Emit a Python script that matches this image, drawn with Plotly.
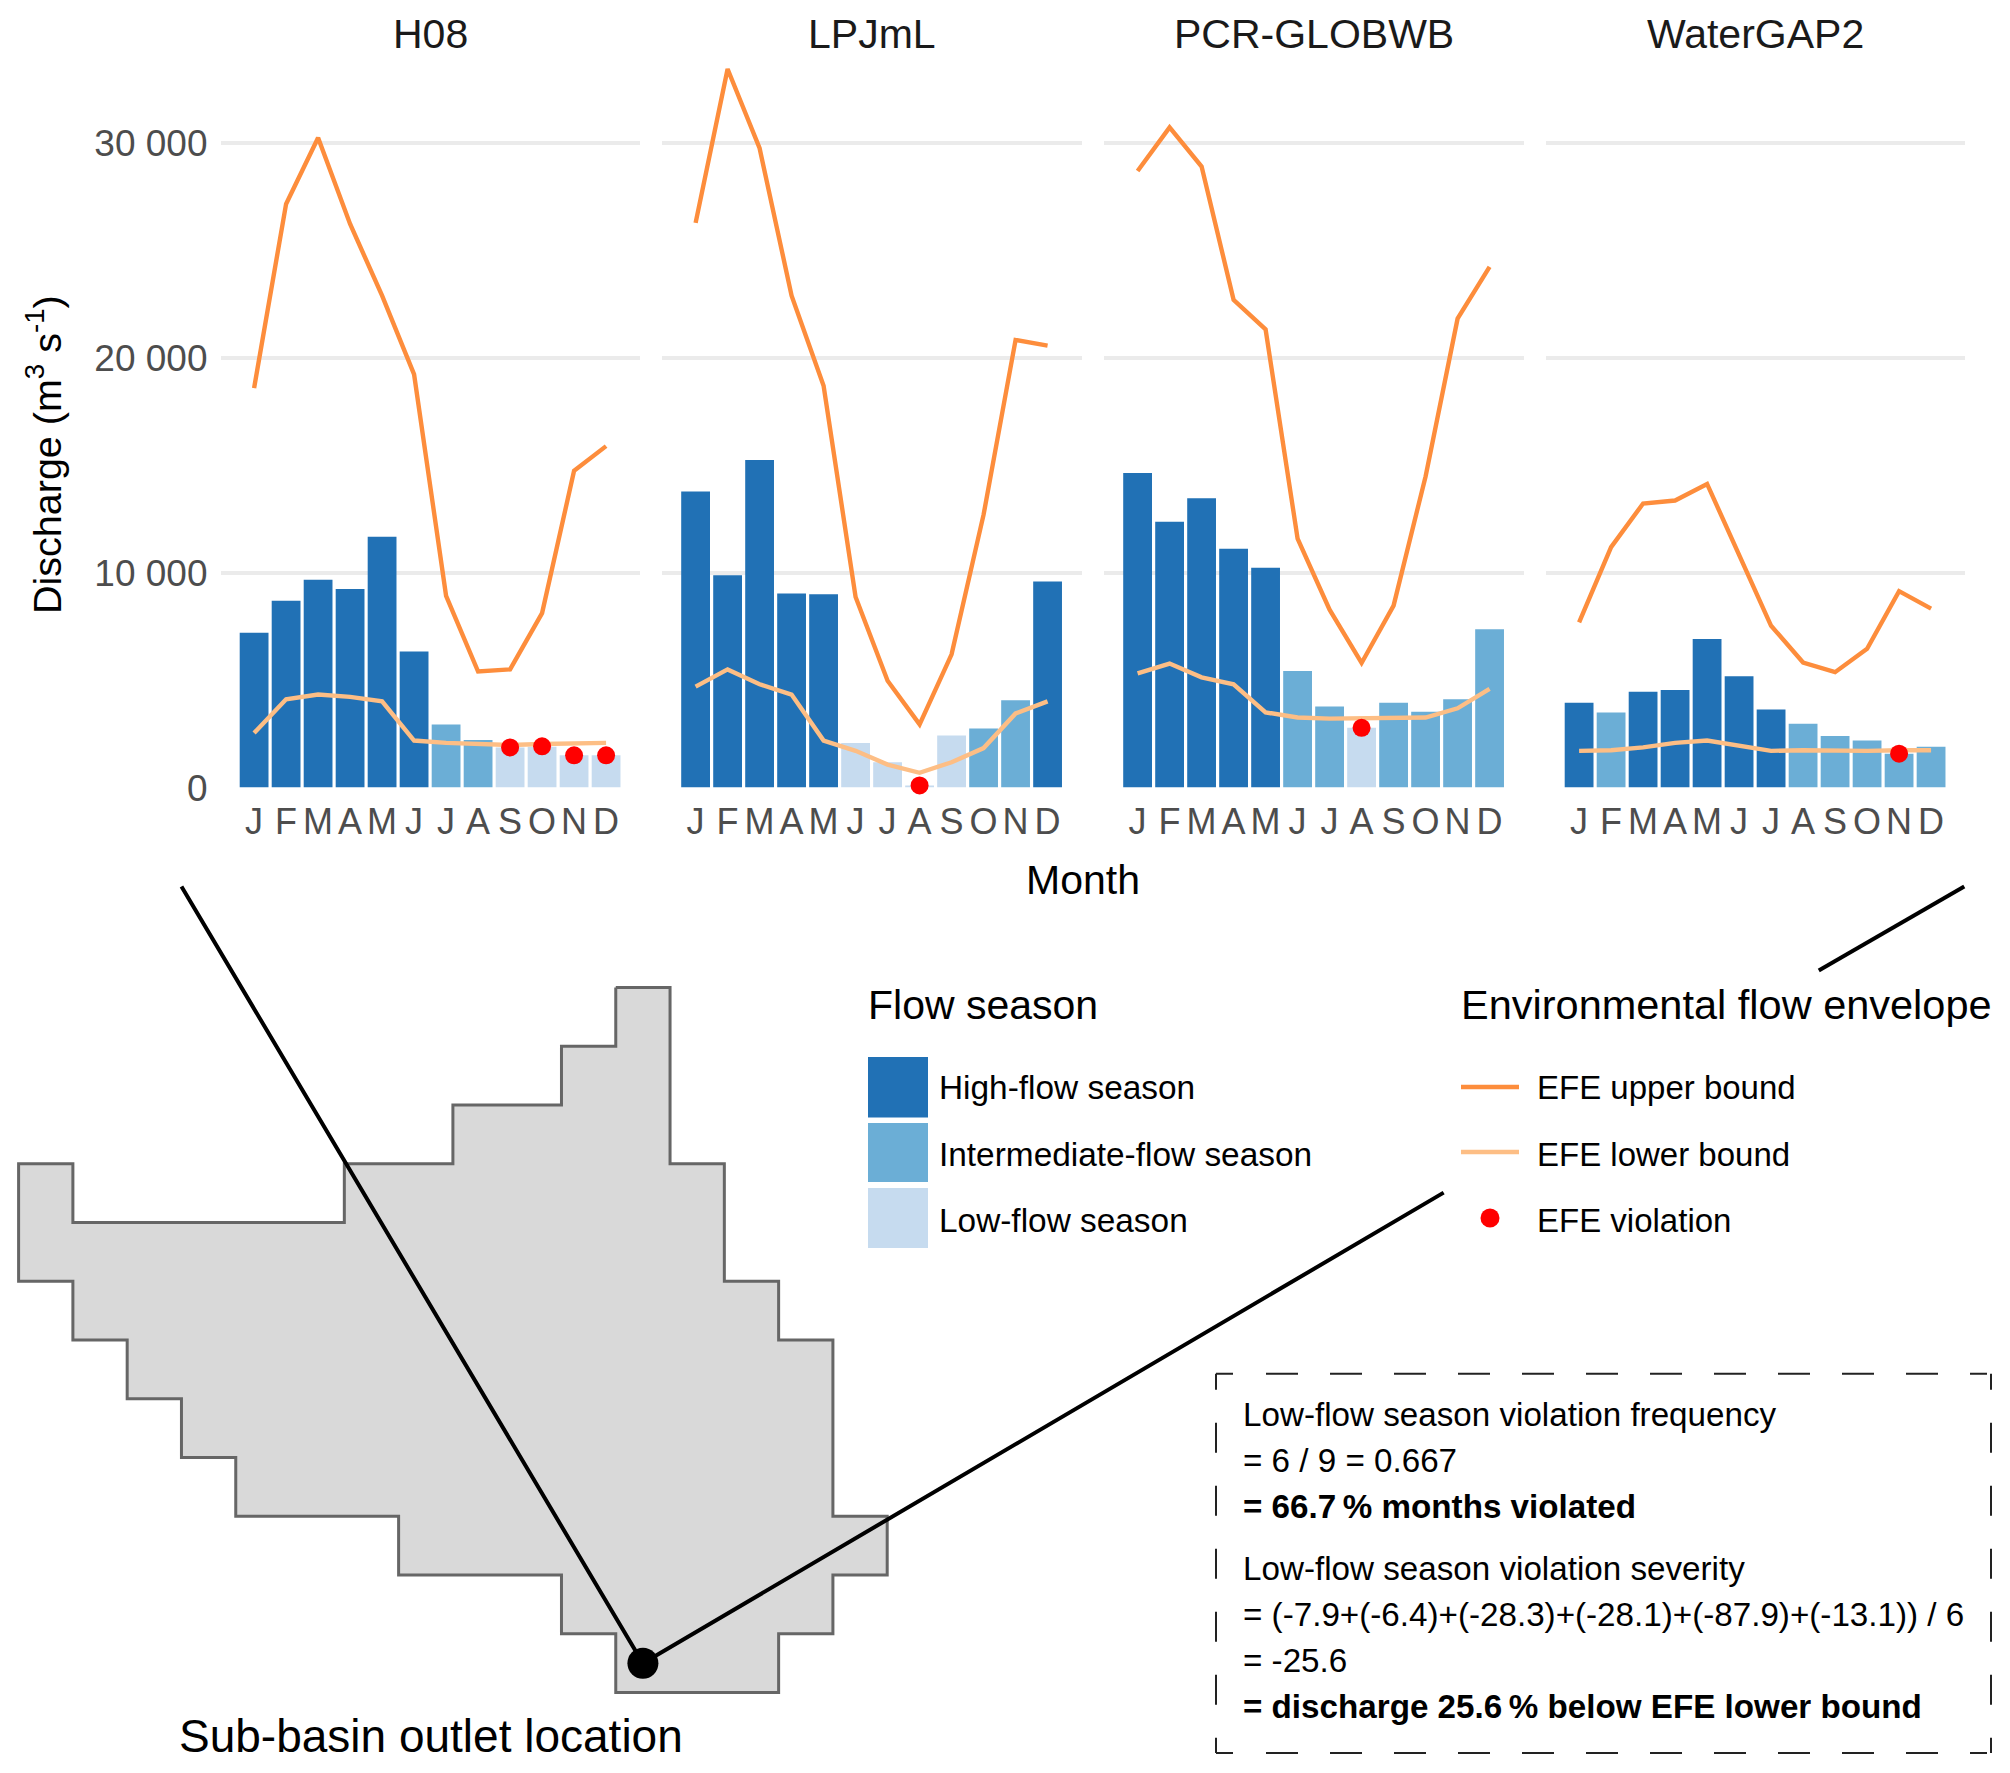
import plotly.graph_objects as go

W, H = 2010, 1773
MODELS = ["H08", "LPJmL", "PCR-GLOBWB", "WaterGAP2"]
MONTH_LABELS = ["J", "F", "M", "A", "M", "J", "J", "A", "S", "O", "N", "D"]
MONTH_POS = [1, 2, 3, 4, 5, 6, 7, 8, 9, 10, 11, 12]
Y_TICKS = [0, 10000, 20000, 30000]
Y_TICK_LABELS = ["0", "10 000", "20 000", "30 000"]

H08_DISCHARGE = [7210, 8700, 9670, 9240, 11670, 6330, 2940, 2220, 1870, 1900, 1500, 1500]
LPJ_DISCHARGE = [13780, 9880, 15250, 9030, 9000, 2080, 1180, 100, 2430, 2750, 4060, 9590]
PCR_DISCHARGE = [14640, 12370, 13460, 11110, 10230, 5420, 3770, 2780, 3950, 3530, 4110, 7370]
WG2_DISCHARGE = [3950, 3500, 4460, 4540, 6920, 5180, 3630, 2970, 2400, 2190, 1580, 1900]

H08_SEASON = ["H", "H", "H", "H", "H", "H", "I", "I", "L", "L", "L", "L"]
LPJ_SEASON = ["H", "H", "H", "H", "H", "L", "L", "L", "L", "I", "I", "H"]
PCR_SEASON = ["H", "H", "H", "H", "H", "I", "I", "L", "I", "I", "I", "I"]
WG2_SEASON = ["H", "I", "H", "H", "H", "H", "H", "I", "I", "I", "I", "I"]

H08_UPPER = [18590, 27160, 30240, 26230, 22890, 19230, 8920, 5400, 5500, 8120, 14740, 15890]
LPJ_UPPER = [26280, 33440, 29750, 22890, 18700, 8870, 4970, 2940, 6200, 12700, 20830, 20570]
PCR_UPPER = [28690, 30720, 28900, 22700, 21320, 11590, 8280, 5800, 8470, 14480, 21820, 24230]
WG2_UPPER = [7690, 11190, 13220, 13360, 14130, 10870, 7530, 5820, 5370, 6460, 9140, 8330]

H08_LOWER = [2540, 4110, 4330, 4220, 4010, 2190, 2080, 2030, 1980, 2030, 2080, 2080]
LPJ_LOWER = [4700, 5500, 4810, 4330, 2190, 1710, 1070, 690, 1180, 1840, 3450, 4010]
PCR_LOWER = [5320, 5770, 5130, 4810, 3500, 3260, 3210, 3210, 3210, 3260, 3690, 4590]
WG2_LOWER = [1710, 1740, 1870, 2080, 2190, 1950, 1710, 1740, 1710, 1710, 1740, 1740]

H08_VIOLATION = [None, None, None, None, None, None, None, None, 1870, 1920, 1500, 1500]
LPJ_VIOLATION = [None, None, None, None, None, None, None, 100, None, None, None, None]
PCR_VIOLATION = [None, None, None, None, None, None, None, 2780, None, None, None, None]
WG2_VIOLATION = [None, None, None, None, None, None, None, None, None, None, 1580, None]

# basin outline in grid-cell units
BASIN_X = [11, 12, 12, 13, 13, 14, 14, 15, 15, 16, 16, 15, 15, 14, 14, 11, 11, 10, 10, 7, 7, 4, 4, 3, 3, 2, 2, 1, 1, 0, 0, 1, 1, 6, 6, 8, 8, 10, 10, 11, 11]
BASIN_Y = [12, 12, 9, 9, 7, 7, 6, 6, 3, 3, 2, 2, 1, 1, 0, 0, 1, 1, 2, 2, 3, 3, 4, 4, 5, 5, 6, 6, 7, 7, 9, 9, 8, 8, 9, 9, 10, 10, 11, 11, 12]
OUTLET_X = [11.5]
OUTLET_Y = [0.5]
LEADER_X = [3.0, 11.5, 26.25, None, 33.16, 35.84]
LEADER_Y = [13.72, 0.5, 8.51, None, 12.29, 13.72]

DISCHARGE = [H08_DISCHARGE, LPJ_DISCHARGE, PCR_DISCHARGE, WG2_DISCHARGE]
SEASONS = [H08_SEASON, LPJ_SEASON, PCR_SEASON, WG2_SEASON]
UPPER = [H08_UPPER, LPJ_UPPER, PCR_UPPER, WG2_UPPER]
LOWER = [H08_LOWER, LPJ_LOWER, PCR_LOWER, WG2_LOWER]
VIOLATION = [H08_VIOLATION, LPJ_VIOLATION, PCR_VIOLATION, WG2_VIOLATION]

SEASON_NAMES = ["High-flow season", "Intermediate-flow season", "Low-flow season"]
EFE_NAMES = ["EFE upper bound", "EFE lower bound", "EFE violation"]
BOX_LINES = [
    "Low-flow season violation frequency",
    "= 6 / 9 = 0.667",
    "<b>= 66.7\u2009% months violated</b>",
    "Low-flow season violation severity",
    "= (-7.9+(-6.4)+(-28.3)+(-28.1)+(-87.9)+(-13.1)) / 6",
    "= -25.6",
    "<b>= discharge 25.6\u2009% below EFE lower bound</b>",
]

FONT = "Liberation Sans"
COL = {"H": "#2171B5", "I": "#6BAED6", "L": "#C6DBEF"}
UP_COL, LO_COL, RED = "#FD8D3C", "#FDBE85", "#FF0000"
PANEL_LEFT = [220.5, 662, 1104, 1545.5]
PANEL_W = 419.5
PANEL_TOP, PANEL_BOTTOM = 50, 787.6
Y_MAX = (PANEL_BOTTOM - PANEL_TOP) / 0.021490


def fx(p):
    return p / W


def fy(p):
    return 1 - p / H


fig = go.Figure()
layout = dict(
    width=W, height=H, margin=dict(l=0, r=0, t=0, b=0, pad=0, autoexpand=False), autosize=False,
    paper_bgcolor="white", plot_bgcolor="rgba(0,0,0,0)", showlegend=False,
    font=dict(family=FONT, color="#000000"), bargap=0.1,
)

for i, model in enumerate(MODELS):
    n = "" if i == 0 else str(i + 1)
    layout[f"xaxis{n}"] = dict(
        domain=[fx(PANEL_LEFT[i]), fx(PANEL_LEFT[i] + PANEL_W)], range=[-0.05, 13.06], automargin=False,
        anchor=f"y{n}", tickmode="array", tickvals=MONTH_POS, ticktext=MONTH_LABELS,
        showgrid=False, zeroline=False, showline=False, ticks="", ticklen=0, ticklabelstandoff=9,
        tickfont=dict(family=FONT, size=36, color="#4D4D4D"), tickangle=0, fixedrange=True,
    )
    layout[f"yaxis{n}"] = dict(
        domain=[fy(PANEL_BOTTOM), fy(PANEL_TOP)], range=[0, Y_MAX], anchor=f"x{n}", automargin=False,
        tickmode="array", tickvals=Y_TICKS, ticktext=Y_TICK_LABELS, showticklabels=(i == 0),
        ticklabelstandoff=12,
        showgrid=True, gridcolor="#EBEBEB", gridwidth=3.5, zeroline=False, showline=False,
        ticks="", tickfont=dict(family=FONT, size=37, color="#4D4D4D"), fixedrange=True,
    )
    xa, ya = f"x{n}", f"y{n}"
    fig.add_trace(go.Bar(x=MONTH_POS, y=DISCHARGE[i], width=0.9, name=model,
                         marker=dict(color=[COL[s] for s in SEASONS[i]], line=dict(width=0)),
                         xaxis=xa, yaxis=ya))
    fig.add_trace(go.Scatter(x=MONTH_POS, y=LOWER[i], mode="lines", name=EFE_NAMES[1],
                             line=dict(color=LO_COL, width=4.4), xaxis=xa, yaxis=ya))
    fig.add_trace(go.Scatter(x=MONTH_POS, y=UPPER[i], mode="lines", name=EFE_NAMES[0],
                             line=dict(color=UP_COL, width=4.4), xaxis=xa, yaxis=ya))
    fig.add_trace(go.Scatter(x=MONTH_POS, y=VIOLATION[i], mode="markers", name=EFE_NAMES[2],
                             marker=dict(color=RED, size=18), cliponaxis=False, xaxis=xa, yaxis=ya))

# map axes cover the whole figure so the leader lines can run past the basin
MAP_X0, MAP_CELL_W, MAP_Y0, MAP_CELL_H = 18.6, 54.2875, 1692.6, 58.75
layout["xaxis5"] = dict(domain=[0, 1], range=[-MAP_X0 / MAP_CELL_W, (W - MAP_X0) / MAP_CELL_W], automargin=False,
                        anchor="y5", visible=False, fixedrange=True)
layout["yaxis5"] = dict(domain=[0, 1], range=[(MAP_Y0 - H) / MAP_CELL_H, MAP_Y0 / MAP_CELL_H], automargin=False,
                        anchor="x5", visible=False, fixedrange=True)
fig.add_trace(go.Scatter(x=BASIN_X, y=BASIN_Y, mode="lines", fill="toself", fillcolor="#D9D9D9",
                         line=dict(color="#666666", width=3), xaxis="x5", yaxis="y5", name="Sub-basin"))
fig.add_trace(go.Scatter(x=LEADER_X, y=LEADER_Y, mode="lines", line=dict(color="black", width=4),
                         xaxis="x5", yaxis="y5", name="Leader"))
fig.add_trace(go.Scatter(x=OUTLET_X, y=OUTLET_Y, mode="markers", marker=dict(color="black", size=31),
                         xaxis="x5", yaxis="y5", name="Sub-basin outlet location"))

ann = []


def text(px, py, s, size, color="#000000", anchor="left", angle=0):
    ann.append(dict(xref="paper", yref="paper", x=fx(px), y=fy(py), text=s, showarrow=False,
                    xanchor=anchor, yanchor="middle", textangle=angle,
                    font=dict(family=FONT, size=size, color=color)))


for i, model in enumerate(MODELS):
    text(PANEL_LEFT[i] + PANEL_W / 2, 34, model, 41, "#1A1A1A", "center")
text(1083, 880, "Month", 41, "#000000", "center")
text(44, 455, "Discharge (m<sup>3</sup> s<sup>-1</sup>)", 39.5, "#000000", "center", -90)
text(866, 1005, "Flow season", 41)
text(1459, 1005, "Environmental flow envelope", 41.5)
text(177, 1736, "Sub-basin outlet location", 46)
for s, py in zip(SEASON_NAMES, [1087, 1154, 1220]):
    text(937, py, s, 33.4)
for s, py in zip(EFE_NAMES, [1087, 1154, 1220]):
    text(1535, py, s, 33)
for s, py in zip(BOX_LINES, [1414, 1460, 1506, 1568, 1614, 1660, 1706]):
    text(1241, py, s, 33.2)

shapes = []
for c, (a, b) in zip(["H", "I", "L"], [(1057, 1117.5), (1123, 1182), (1188, 1248)]):
    shapes.append(dict(type="rect", xref="paper", yref="paper", x0=fx(868), x1=fx(928), y0=fy(b), y1=fy(a),
                       fillcolor=COL[c], line=dict(width=0)))
for c, py in zip([UP_COL, LO_COL], [1087, 1152]):
    shapes.append(dict(type="line", xref="paper", yref="paper", x0=fx(1461), x1=fx(1519), y0=fy(py), y1=fy(py),
                       line=dict(color=c, width=4.5)))
shapes.append(dict(type="circle", xref="paper", yref="paper", x0=fx(1480.5), x1=fx(1499.5), y0=fy(1227.5), y1=fy(1208.5),
                   fillcolor=RED, line=dict(width=0)))

BX0, BX1, BY0, BY1 = 1216, 1991, 1373.7, 1753
hdash = "17px,33px," + ",".join(["32px,32px"] * 11) + ",17px,800px"
vdash = "16px,33px," + ",".join(["30px,33px"] * 5) + ",16px,800px"
for x0, y0, x1, y1, d in [(BX0, BY0, BX1, BY0, hdash), (BX0, BY1, BX1, BY1, hdash),
                          (BX0, BY0, BX0, BY1, vdash), (BX1, BY0, BX1, BY1, vdash)]:
    shapes.append(dict(type="line", xref="paper", yref="paper", x0=fx(x0), x1=fx(x1), y0=fy(y0), y1=fy(y1),
                       line=dict(color="#222222", width=2, dash=d)))

layout["annotations"] = ann
layout["shapes"] = shapes
fig.update_layout(**layout)
fig.write_html("out.html", config=dict(displayModeBar=False),
               post_script="document.body.style.margin='0';document.documentElement.style.overflow='hidden';")
